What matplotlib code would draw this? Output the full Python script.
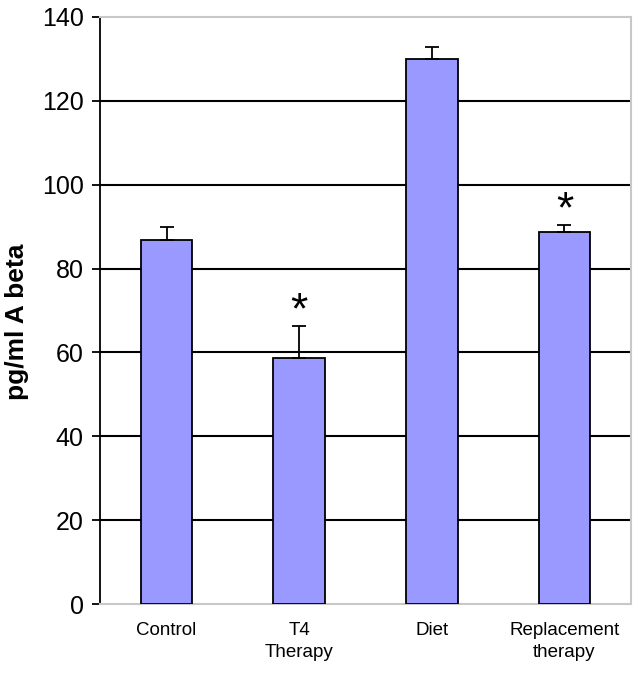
import matplotlib.pyplot as plt

# Datos
grupos = ['Control', 'T4\nTherapy', 'Diet', 'Replacement\ntherapy']
medias = [86.9, 58.7, 130.0, 88.8]
errores = [3.1, 7.6, 2.7, 1.6]
significativo = [False, True, False, True]

plt.rcParams['font.family'] = ['Liberation Sans', 'DejaVu Sans']

fig = plt.figure(figsize=(6.34, 6.75), dpi=100)
ax = fig.add_axes([0.158, 0.105, 0.837, 0.870])

x = range(len(grupos))
ax.bar(x, medias, width=0.39, color='#9999FF', edgecolor='black',
       linewidth=1.3, zorder=3)
ax.errorbar(x, medias, yerr=[[0] * len(errores), errores], fmt='none',
            ecolor='black', elinewidth=1.3, capsize=5, capthick=1.3, zorder=4)

# Asteriscos de significancia
for i, (m, e, s) in enumerate(zip(medias, errores, significativo)):
    if s:
        ax.text(i, m + e + 0.6, '*', ha='center', va='baseline',
                fontsize=32, color='black', zorder=5)

# Ejes y cuadricula
ax.set_xlim(-0.5, len(grupos) - 0.5)
ax.set_ylim(0, 140)
ax.set_yticks(range(0, 141, 20))
for v in range(20, 140, 20):
    ax.axhline(v, color='black', linewidth=1.5, zorder=1)

ax.spines['left'].set_color('black')
ax.spines['left'].set_linewidth(1.3)
for lado in ['top', 'right', 'bottom']:
    ax.spines[lado].set_color('#c8c8c8')
    ax.spines[lado].set_linewidth(1.5)

ax.tick_params(axis='y', direction='out', length=6, width=1.3,
               labelsize=18, pad=6)
ax.tick_params(axis='x', length=0, labelsize=13.5, pad=13)
ax.set_xticks(list(x))
ax.set_xticklabels(grupos, linespacing=1.4)

ax.set_ylabel('pg/ml A beta', fontsize=19, fontweight='heavy')
ax.yaxis.set_label_coords(-0.135, 0.48)

fig.savefig('out.png', dpi=100)
